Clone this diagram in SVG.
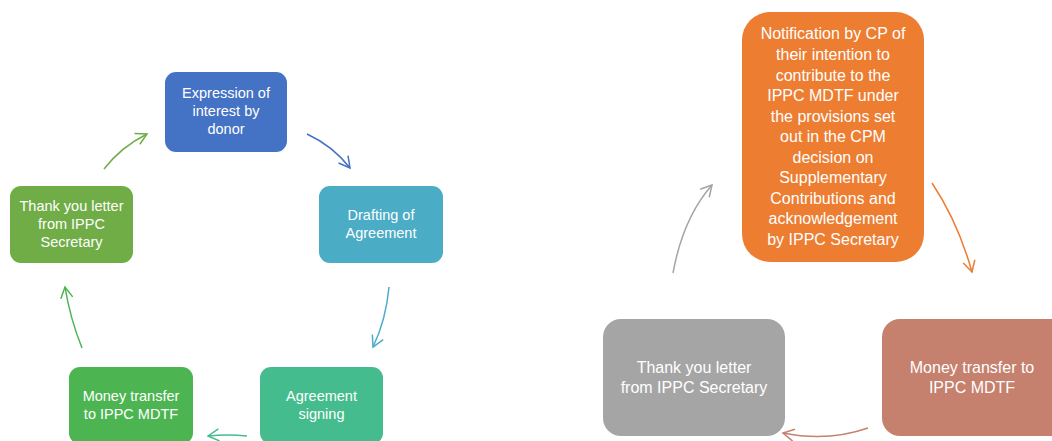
<svg xmlns="http://www.w3.org/2000/svg" width="1052" height="441" viewBox="0 0 1052 441">
<style>
text{font-family:"Liberation Sans",Arial,sans-serif;fill:#ffffff;text-anchor:middle}
.s{font-size:14.5px}
.l{font-size:16px}
.c{fill:none;stroke-width:1.5}
</style>
<defs>
<marker id="mBlue" markerWidth="14" markerHeight="14" refX="0" refY="0" viewBox="-12 -7 14 14" orient="auto" markerUnits="userSpaceOnUse"><path d="M-11,-6 L0,0 L-11,6" fill="none" stroke="#4472C4" stroke-width="1.5"/></marker>
<marker id="mGreen" markerWidth="14" markerHeight="14" refX="0" refY="0" viewBox="-12 -7 14 14" orient="auto" markerUnits="userSpaceOnUse"><path d="M-11,-6 L0,0 L-11,6" fill="none" stroke="#70AD47" stroke-width="1.5"/></marker>
<marker id="mTeal" markerWidth="14" markerHeight="14" refX="0" refY="0" viewBox="-12 -7 14 14" orient="auto" markerUnits="userSpaceOnUse"><path d="M-11,-6 L0,0 L-11,6" fill="none" stroke="#4BACC6" stroke-width="1.5"/></marker>
<marker id="mSea" markerWidth="14" markerHeight="14" refX="0" refY="0" viewBox="-12 -7 14 14" orient="auto" markerUnits="userSpaceOnUse"><path d="M-11,-6 L0,0 L-11,6" fill="none" stroke="#45BC8D" stroke-width="1.5"/></marker>
<marker id="mLeaf" markerWidth="14" markerHeight="14" refX="0" refY="0" viewBox="-12 -7 14 14" orient="auto" markerUnits="userSpaceOnUse"><path d="M-11,-6 L0,0 L-11,6" fill="none" stroke="#4CB552" stroke-width="1.5"/></marker>
<marker id="mGray" markerWidth="14" markerHeight="14" refX="0" refY="0" viewBox="-12 -7 14 14" orient="auto" markerUnits="userSpaceOnUse"><path d="M-11,-6 L0,0 L-11,6" fill="none" stroke="#A5A5A5" stroke-width="1.5"/></marker>
<marker id="mOrange" markerWidth="14" markerHeight="14" refX="0" refY="0" viewBox="-12 -7 14 14" orient="auto" markerUnits="userSpaceOnUse"><path d="M-11,-6 L0,0 L-11,6" fill="none" stroke="#ED7D31" stroke-width="1.5"/></marker>
<marker id="mBrown" markerWidth="14" markerHeight="14" refX="0" refY="0" viewBox="-12 -7 14 14" orient="auto" markerUnits="userSpaceOnUse"><path d="M-11,-6 L0,0 L-11,6" fill="none" stroke="#C5806E" stroke-width="1.5"/></marker>
</defs>
<rect width="1052" height="441" fill="#ffffff"/>

<g id="expression">
<rect x="165" y="72" width="122" height="80" rx="11" fill="#4472C4"/>
<text class="s" x="226" y="98">Expression of</text>
<text class="s" x="226" y="116">interest by</text>
<text class="s" x="226" y="134">donor</text>
</g>
<g id="drafting">
<rect x="319" y="186" width="124" height="77" rx="11" fill="#4BACC6"/>
<text class="s" x="381" y="220">Drafting of</text>
<text class="s" x="381" y="238">Agreement</text>
</g>
<g id="signing">
<rect x="260" y="367" width="123" height="77" rx="11" fill="#45BC8D"/>
<text class="s" x="321.5" y="401">Agreement</text>
<text class="s" x="321.5" y="419">signing</text>
</g>
<g id="money-left">
<rect x="69" y="367" width="124" height="77" rx="11" fill="#4CB552"/>
<text class="s" x="131" y="401">Money transfer</text>
<text class="s" x="131" y="419">to IPPC MDTF</text>
</g>
<g id="thanks-left">
<rect x="10" y="186" width="123" height="77" rx="11" fill="#70AD47"/>
<text class="s" x="71.5" y="211">Thank you letter</text>
<text class="s" x="71.5" y="229">from IPPC</text>
<text class="s" x="71.5" y="247">Secretary</text>
</g>

<g id="notification">
<rect x="742" y="12" width="182" height="250" rx="28" fill="#ED7D31"/>
<text class="l" x="833" y="39">Notification by CP of</text>
<text class="l" x="833" y="60">their intention to</text>
<text class="l" x="833" y="81">contribute to the</text>
<text class="l" x="833" y="101">IPPC MDTF under</text>
<text class="l" x="833" y="122">the provisions set</text>
<text class="l" x="833" y="142">out in the CPM</text>
<text class="l" x="833" y="163">decision on</text>
<text class="l" x="833" y="183">Supplementary</text>
<text class="l" x="833" y="204">Contributions and</text>
<text class="l" x="833" y="224">acknowledgement</text>
<text class="l" x="833" y="245">by IPPC Secretary</text>
</g>
<g id="money-right">
<rect x="882" y="319" width="190" height="117" rx="18" fill="#C5806E"/>
<text class="l" x="972" y="373">Money transfer to</text>
<text class="l" x="972" y="393">IPPC MDTF</text>
</g>
<g id="thanks-right">
<rect x="603" y="319" width="182" height="117" rx="18" fill="#A5A5A5"/>
<text class="l" x="694" y="373">Thank you letter</text>
<text class="l" x="694" y="393">from IPPC Secretary</text>
</g>

<g id="connectors">
<path class="c" stroke="#70AD47" d="M104,169 Q121,147 147,134" marker-end="url(#mGreen)"/>
<path class="c" stroke="#4472C4" d="M307,134 Q333,146 350,168" marker-end="url(#mBlue)"/>
<path class="c" stroke="#4BACC6" d="M389,287 Q386,320 373,347" marker-end="url(#mTeal)"/>
<path class="c" stroke="#45BC8D" d="M247,436 Q228,434 208,436" marker-end="url(#mSea)"/>
<path class="c" stroke="#4CB552" d="M82,348 Q70,318 65,287" marker-end="url(#mLeaf)"/>
<path class="c" stroke="#A5A5A5" d="M673,273 Q683,218 712,185" marker-end="url(#mGray)"/>
<path class="c" stroke="#ED7D31" d="M932,183 Q958,222 972,272" marker-end="url(#mOrange)"/>
<path class="c" stroke="#C5806E" d="M868,428 Q828,442 783,433" marker-end="url(#mBrown)"/>
</g>
</svg>
